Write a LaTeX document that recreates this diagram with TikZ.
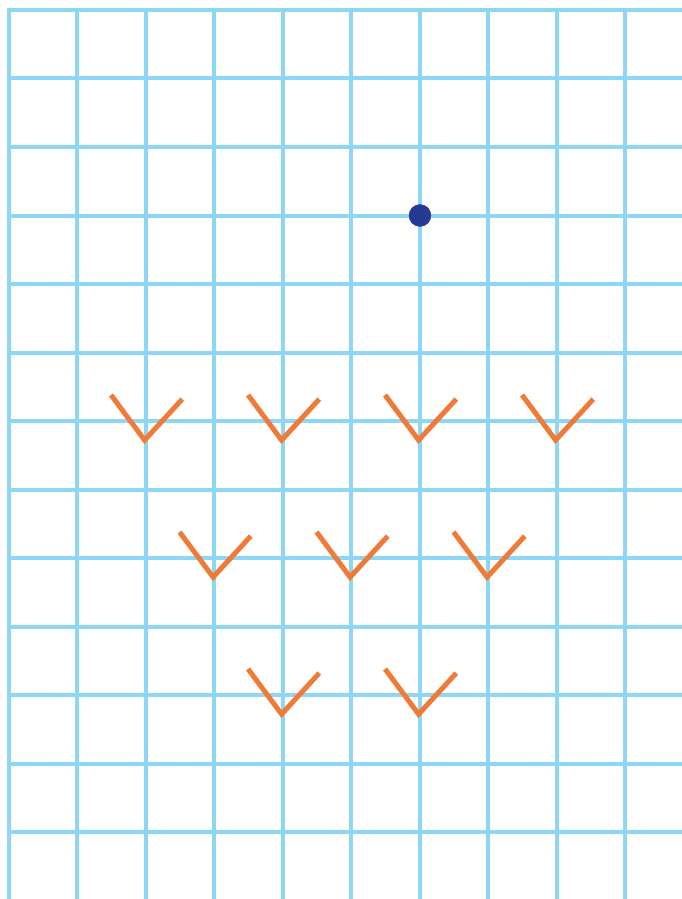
\documentclass[tikz,border=0pt]{standalone}
\definecolor{cuadricula}{HTML}{8DD7F5}
\definecolor{marca}{HTML}{F07A38}
\definecolor{punto}{HTML}{263A94}
\begin{document}
\begin{tikzpicture}[x=68.5pt, y=-68.5pt]
            \useasboundingbox (-0.131,-0.146) rectangle (9.825,12.978);

            % Cuadricula
            \foreach \i in {0,...,9}
                \draw[cuadricula, line width=4pt] (\i,-0.03) -- (\i,12.98);
            \foreach \j in {0,...,12}
                \draw[cuadricula, line width=4pt] (-0.03,\j) -- (9.83,\j);

            % Punto
            \filldraw[punto] (6,3) circle (11pt);

            % Marcas en V
            \foreach \x/\y in {2/6, 4/6, 6/6, 8/6, 3/8, 5/8, 7/8, 4/10, 6/10}
                \draw[marca, line width=5pt, line join=miter] ({\x-0.51},{\y-0.38}) -- ({\x-0.02},{\y+0.28}) -- ({\x+0.53},{\y-0.32});

        \end{tikzpicture}
\end{document}
